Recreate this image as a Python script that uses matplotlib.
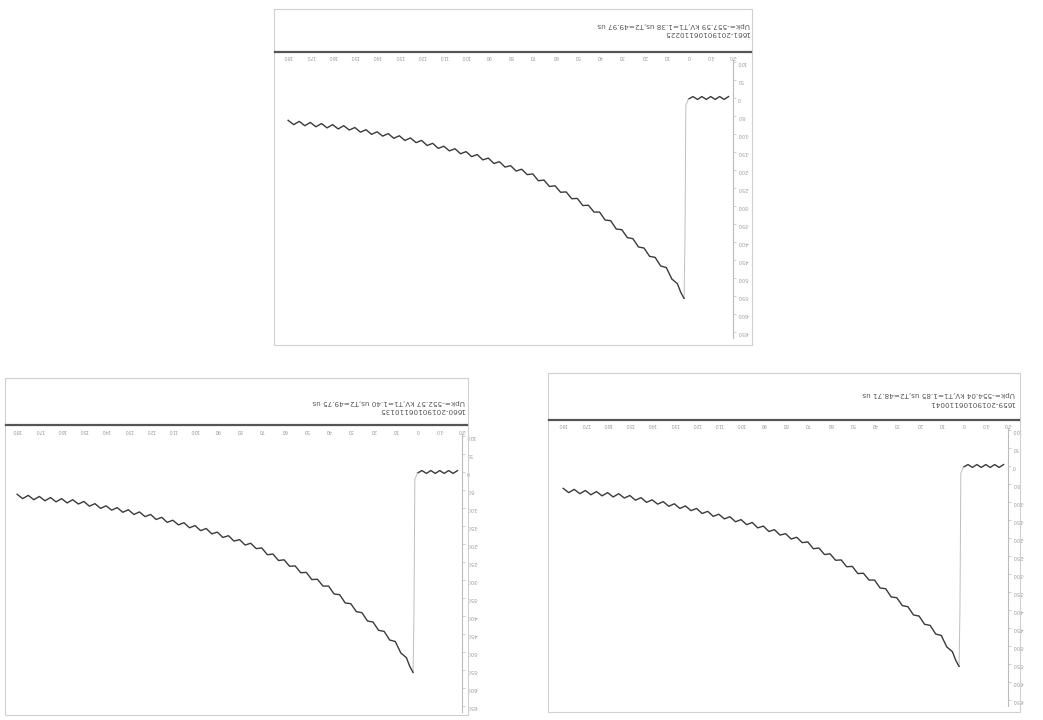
import numpy as np
import matplotlib
matplotlib.use("Agg")
import matplotlib.pyplot as plt
from matplotlib.patches import Rectangle
from matplotlib.lines import Line2D

# record headers (the scan is upside down, so all text is drawn rotated 180)
record_ids = ["1661-20190106110225", "1660-20190106110135", "1659-20190106110041"]
record_params = ["Upk=-557.59 kV,T1=1.38 us,T2=49.97 us",
                 "Upk=-552.57 kV,T1=1.40 us,T2=49.75 us",
                 "Upk=-554.04 kV,T1=1.85 us,T2=48.71 us"]

# pre-trigger baseline (us, kV)
base_t = [-18, -16, -14, -12, -10, -8, -6, -4, -2, 0]
base_v = [4, -4, 4, -4, 4, -4, 4, -4, 4, -3]

# front of the impulse
front_t = [0, 1.2, 1.6, 2.0]
front_v = [-3, -20, -400, -557]

# tail of the impulse (with its ripple)
tail_t = [2.0, 3.5, 5, 7.5, 10, 12.5, 15, 17.5, 20, 22.5, 25, 27.5, 30, 32.5,
          35, 37.5, 40, 42.5, 45, 47.5, 50, 52.5, 55, 57.5, 60, 62.5, 65,
          67.5, 70, 72.5, 75, 77.5, 80, 82.5, 85, 87.5, 90, 92.5, 95, 97.5,
          100, 102.5, 105, 107.5, 110, 112.5, 115, 117.5, 120, 122.5, 125,
          127.5, 130, 132.5, 135, 137.5, 140, 142.5, 145, 147.5, 150, 152.5,
          155, 157.5, 160, 162.5, 165, 167.5, 170, 172.5, 175, 177.5, 180]
tail_v = [-557, -540, -516, -503, -471, -467, -443, -440, -417, -414, -391,
          -388, -366, -364, -341, -339, -317, -317, -298, -299, -279, -280,
          -261, -262, -244, -246, -228, -230, -211, -213, -198, -203, -188,
          -192, -177, -182, -167, -172, -157, -163, -149, -155, -141, -147,
          -134, -140, -126, -132, -118, -124, -111, -118, -105, -112, -99,
          -106, -94, -101, -88, -95, -82, -89, -77, -86, -74, -83, -71, -80,
          -68, -77, -65, -74, -62]

x_ticks = list(range(-20, 190, 10))
y_ticks = list(range(-650, 150, 50))

W, H = 1043, 720
fig = plt.figure(figsize=(W / 100, H / 100), dpi=100)
fig.patch.set_facecolor("white")


def fx(x):
    return x / W


def fy(y):
    return 1 - y / H


# panel layout in pixels: frame box, header line y, y-axis x, zero-level y, text right x, text lines y
panels = [
    dict(frame=(274, 9, 752, 345), header=52, axis_x=733, zero_y=98, text_x=750, text_y=(33, 25)),
    dict(frame=(5, 378, 468, 715), header=425, axis_x=462, zero_y=472, text_x=465, text_y=(410, 402)),
    dict(frame=(548, 373, 1020, 712), header=420, axis_x=1008, zero_y=466, text_x=1015, text_y=(403, 394)),
]

for i, p in enumerate(panels):
    x0, y0, x1, y1 = p["frame"]
    fig.patches.append(Rectangle((fx(x0), fy(y1)), fx(x1) - fx(x0), fy(y0) - fy(y1),
                                 transform=fig.transFigure, fill=False,
                                 edgecolor="#d0d0d0", linewidth=0.8))
    fig.lines.append(Line2D([fx(x0 + 1), fx(x1 - 1)], [fy(p["header"])] * 2,
                            transform=fig.transFigure, color="#555555", linewidth=1.6))
    fig.text(fx(p["text_x"]), fy(p["text_y"][0]), record_ids[i], rotation=180,
             ha="right", va="center", fontsize=5.2, color="#555555")
    fig.text(fx(p["text_x"]), fy(p["text_y"][1]), record_params[i], rotation=180,
             ha="right", va="center", fontsize=5.2, color="#555555")

    top = p["zero_y"] - 38
    bottom = p["zero_y"] + 240
    left = p["axis_x"] - 456
    ax = fig.add_axes([fx(left), fy(bottom), fx(p["axis_x"]) - fx(left), fy(top) - fy(bottom)])
    ax.set_facecolor("none")
    ax.plot(base_t, base_v, color="#3a3a3a", linewidth=1.0)
    ax.plot(front_t, front_v, color="#bdbdbd", linewidth=0.7)
    ax.plot(tail_t, tail_v, color="#3a3a3a", linewidth=1.0)
    ax.set_xlim(185, -20)
    ax.set_ylim(-667, 105.6)
    for s in ["top", "bottom", "left"]:
        ax.spines[s].set_visible(False)
    ax.spines["right"].set_color("#bbbbbb")
    ax.spines["right"].set_linewidth(0.8)
    ax.xaxis.tick_top()
    ax.yaxis.tick_right()
    ax.set_xticks(x_ticks)
    ax.set_yticks(y_ticks)
    ax.set_xticklabels([str(v) for v in x_ticks], rotation=180, fontsize=3.6, color="#9a9a9a")
    ax.set_yticklabels([str(v) for v in y_ticks], rotation=180, fontsize=3.6, color="#9a9a9a")
    ax.tick_params(axis="x", length=0, pad=1)
    ax.tick_params(axis="y", length=2, width=0.5, color="#bbbbbb", pad=1)

fig.savefig("out.png", dpi=100)
